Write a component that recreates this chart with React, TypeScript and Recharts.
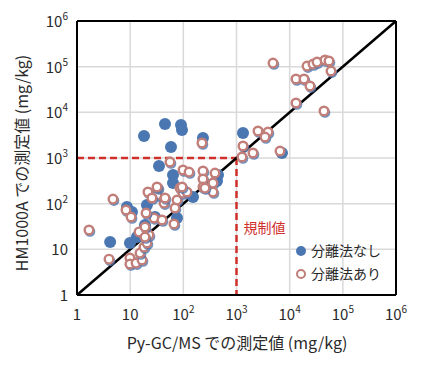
import React from 'react';
import { ScatterChart, Scatter, XAxis, YAxis, CartesianGrid, ReferenceLine, ReferenceDot, Label } from 'recharts';

// 分離法なし (x: Py-GC/MS, y: HM1000A), mg/kg
const noSepX = [4.2, 8.7, 9.9, 13.4, 16.7, 19, 20.7, 29.3, 76, 18.2, 45.2, 90.3, 94.4, 58.6, 34.9, 64, 64, 234, 1325, 7170, 430, 152, 449, 10.8];
const noSepY = [14.5, 84.5, 13.8, 18.6, 24, 34, 93.5, 51, 48.5, 3030, 5550, 5280, 4100, 1740, 668, 424, 283, 2740, 3525, 1286, 313, 140, 424, 65.7];

// 分離法あり
const sepX = [1.68, 4.0, 4.75, 8.35, 10.4, 9.9, 9.9, 12.9, 16.7, 15.3, 18.2, 20.7, 22.6, 14.7, 19, 28.1, 19.9, 39.7, 43.3, 32, 21.6, 33.4, 25.7, 45.2, 76, 69.7, 66.7, 86.5, 98.6, 56.1, 98.6, 128, 32, 117, 224, 234, 234, 234, 394, 361, 361, 255, 1325, 2042, 1268, 2537, 3910, 3435, 6580, 13150, 44200, 4860, 13150, 18600, 24100, 21200, 27500, 32700, 46200, 54900, 59900, 19, 94.4];
const sepY = [26.5, 6.1, 126, 72.6, 51, 6.46, 4.77, 5.0, 5.84, 8.3, 11.2, 13.8, 20.6, 24, 30.8, 48.5, 62.4, 43.9, 103, 155, 180, 220, 133, 133, 120, 80.3, 35.9, 220, 171, 817, 546, 493, 232, 180, 2130, 519, 347, 232, 469, 283, 180, 220, 1832, 1286, 1051, 3900, 3710, 2880, 1422, 16000, 10700, 120000, 53700, 53700, 37700, 103000, 114000, 126000, 140000, 133000, 80300, 18.6, 232];

const ticks = [1, 10, 100, 1000, 10000, 100000, 1000000];
const seriesNames = ['分離法なし', '分離法あり'];
const regulationValue = 1000;

const noSepData = noSepX.map((x, i) => ({ x, y: noSepY[i] }));
const sepData = sepX.map((x, i) => ({ x, y: sepY[i] }));

const BLUE = '#4a77b2';
const PINK = '#c27f7a';
const RED = '#d0302b';
const TEXT = '#2a2a2a';
const FONT = '"Noto Sans CJK JP", "Noto Sans", sans-serif';

const expOf = (v: number) => Math.round(Math.log10(v));

const XTick = (props: any) => {
  const { x, y, payload } = props;
  const e = expOf(payload.value);
  return (
    <text x={x} y={y + 23} textAnchor="middle" fontSize={15} fill={TEXT} fontFamily={FONT}>
      {e === 0 ? '1' : '10'}
      {e >= 2 ? <tspan dy={-7} fontSize={10}>{e}</tspan> : null}
    </text>
  );
};

const YTick = (props: any) => {
  const { x, y, payload } = props;
  const e = expOf(payload.value);
  return (
    <text x={x - 7} y={y + 6} textAnchor="end" fontSize={15} fill={TEXT} fontFamily={FONT}>
      {e === 0 ? '1' : '10'}
      {e >= 2 ? <tspan dy={-7} fontSize={10}>{e}</tspan> : null}
    </text>
  );
};

const FilledDot = (props: any) => {
  const { cx, cy } = props;
  return <circle cx={cx} cy={cy} r={6} fill={BLUE} />;
};

const HollowDot = (props: any) => {
  const { cx, cy } = props;
  return (
    <g>
      <circle cx={cx + 1} cy={cy + 1.5} r={5.3} fill={BLUE} opacity={0.8} />
      <circle cx={cx} cy={cy} r={4.3} fill="#fff" stroke={PINK} strokeWidth={2.4} />
    </g>
  );
};

export default function App() {
  return (
    <div style={{ position: 'absolute', left: 0, top: 0, width: 433, height: 366, background: '#fff' }}>
      <ScatterChart width={433} height={366} margin={{ top: 21, right: 37, bottom: 21, left: 20 }}>
        <CartesianGrid stroke="#d9d9d9" strokeWidth={1.5} />
        <XAxis
          type="number"
          dataKey="x"
          scale="log"
          domain={[1, 1000000]}
          ticks={ticks}
          allowDataOverflow
          height={50}
          tickLine={false}
          tickSize={0}
          axisLine={{ stroke: '#000', strokeWidth: 2 }}
          tick={<XTick />}
          interval={0}
        >
          <Label
            content={() => (
              <text x={237} y={349} textAnchor="middle" fontSize={16} fill={TEXT} fontFamily={FONT}>
                Py-GC/MS での測定値 (mg/kg)
              </text>
            )}
          />
        </XAxis>
        <YAxis
          type="number"
          dataKey="y"
          scale="log"
          domain={[1, 1000000]}
          ticks={ticks}
          allowDataOverflow
          width={57}
          tickLine={false}
          tickSize={0}
          axisLine={{ stroke: '#000', strokeWidth: 2 }}
          tick={<YTick />}
          interval={0}
        >
          <Label
            content={() => (
              <text
                x={21}
                y={163}
                transform="rotate(-90 21 163)"
                textAnchor="middle"
                dominantBaseline="central"
                fontSize={16}
                fill={TEXT}
                fontFamily={FONT}
              >
                HM1000A での測定値 (mg/kg)
              </text>
            )}
          />
        </YAxis>
        <ReferenceLine y={1000000} stroke="#000" strokeWidth={2} />
        <ReferenceLine x={1000000} stroke="#000" strokeWidth={2} />
        <ReferenceLine
          segment={[{ x: 1, y: regulationValue }, { x: regulationValue, y: regulationValue }]}
          stroke={RED}
          strokeWidth={2.5}
          strokeDasharray="7 4"
        />
        <ReferenceLine
          segment={[{ x: regulationValue, y: regulationValue }, { x: regulationValue, y: 1 }]}
          stroke={RED}
          strokeWidth={2.5}
          strokeDasharray="7 4"
        />
        <Scatter name={seriesNames[0]} data={noSepData} shape={<FilledDot />} isAnimationActive={false} />
        <Scatter name={seriesNames[1]} data={sepData} shape={<HollowDot />} isAnimationActive={false} />
        <ReferenceLine
          segment={[{ x: 1, y: 1 }, { x: 1000000, y: 1000000 }]}
          stroke="#000"
          strokeWidth={2.5}
        />
        <ReferenceDot
          x={regulationValue}
          y={29}
          r={0}
          fill="none"
          stroke="none"
          label={{ value: '規制値', position: 'right', offset: 7, fill: RED, fontSize: 14, fontFamily: FONT }}
        />
      </ScatterChart>
      <div style={{ position: 'absolute', left: 294, top: 239, fontFamily: FONT, fontSize: 14, color: TEXT, lineHeight: '23px' }}>
        <div style={{ display: 'flex', alignItems: 'center' }}>
          <svg width={14} height={14} style={{ marginRight: 3 }}>
            <circle cx={7} cy={7} r={5} fill={BLUE} />
          </svg>
          <span>{seriesNames[0]}</span>
        </div>
        <div style={{ display: 'flex', alignItems: 'center' }}>
          <svg width={14} height={14} style={{ marginRight: 3 }}>
            <circle cx={7} cy={7} r={4} fill="#fff" stroke={PINK} strokeWidth={2} />
          </svg>
          <span>{seriesNames[1]}</span>
        </div>
      </div>
    </div>
  );
}
